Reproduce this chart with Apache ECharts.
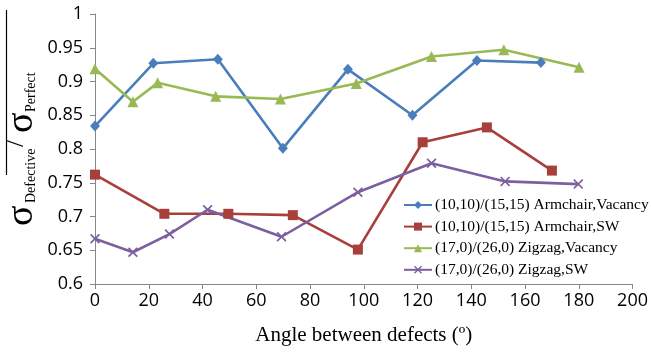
<!DOCTYPE html>
<html>
<head>
<meta charset="utf-8">
<script src="https://cdn.jsdelivr.net/npm/echarts@6/dist/echarts.min.js"></script>
<style>
  html, body { margin: 0; padding: 0; background: #fff; }
  #chart { width: 651px; height: 352px; }
</style>
</head>
<body>
<div id="chart"></div>
<script>
// Angle between defects (degrees) and stress ratio for each nanotube pair
const armVacAngle = [0, 21.7, 45.7, 69.9, 94.1, 118.1, 142.1, 165.9];
const armVacRatio = [0.834, 0.927, 0.933, 0.801, 0.918, 0.850, 0.931, 0.928];

const armSwAngle = [0, 25.8, 49.6, 73.6, 97.8, 121.9, 145.8, 170.0];
const armSwRatio = [0.762, 0.704, 0.704, 0.702, 0.651, 0.810, 0.832, 0.768];

const zigVacAngle = [0, 14.1, 23.3, 44.9, 69.0, 97.2, 125.2, 152.1, 180.1];
const zigVacRatio = [0.919, 0.870, 0.898, 0.878, 0.874, 0.897, 0.937, 0.947, 0.921];

const zigSwAngle = [0, 14.1, 27.7, 41.9, 69.4, 97.8, 125.2, 152.6, 179.8];
const zigSwRatio = [0.667, 0.647, 0.674, 0.710, 0.670, 0.736, 0.779, 0.752, 0.748];

const seriesNames = [
  '(10,10)/(15,15) Armchair,Vacancy',
  '(10,10)/(15,15) Armchair,SW',
  '(17,0)/(26,0) Zigzag,Vacancy',
  '(17,0)/(26,0) Zigzag,SW'
];

const xTicks = [0, 20, 40, 60, 80, 100, 120, 140, 160, 180, 200];
const yTicks = ['0.6', '0.65', '0.7', '0.75', '0.8', '0.85', '0.9', '0.95', '1'];

const pairs = (xs, ys) => xs.map((x, i) => [x, ys[i]]);

const SERIF = '"Liberation Serif", "Times New Roman", serif';
const SANS = '"Open Sans", sans-serif';
const AXIS_GREY = '#878787';

// filled "x" marker
const crossPath = 'path://M0,1.2L1.2,0L5,3.8L8.8,0L10,1.2L6.2,5L10,8.8L8.8,10L5,6.2L1.2,10L0,8.8L3.8,5Z';

const styles = [
  { color: '#4A7EBB', symbol: 'diamond', size: [10, 11] },
  { color: '#A83F3B', symbol: 'rect', size: 10 },
  { color: '#98B954', symbol: 'triangle', size: 11 },
  { color: '#7D5FA0', symbol: crossPath, size: 10 }
];
const dataSets = [
  pairs(armVacAngle, armVacRatio),
  pairs(armSwAngle, armSwRatio),
  pairs(zigVacAngle, zigVacRatio),
  pairs(zigSwAngle, zigSwRatio)
];

// one piece of the rotated axis title
const titlePiece = (text, x, y, size) => ({
  type: 'text',
  x, y,
  style: {
    text,
    font: size + 'px ' + SERIF,
    fill: '#000',
    align: 'left',
    verticalAlign: 'middle'
  }
});

const chart = echarts.init(document.getElementById('chart'), null, { renderer: 'canvas' });

chart.setOption({
  animation: false,
  backgroundColor: '#fff',
  grid: { left: 95, right: 16, top: 14, bottom: 68, containLabel: false },
  xAxis: {
    type: 'value',
    min: xTicks[0],
    max: xTicks[xTicks.length - 1],
    interval: xTicks[1] - xTicks[0],
    name: 'Angle between defects (º)',
    nameLocation: 'middle',
    nameGap: 41,
    nameTextStyle: { fontFamily: SERIF, fontSize: 21, color: '#000' },
    axisLine: { lineStyle: { color: AXIS_GREY, width: 1 } },
    axisTick: { show: true, inside: false, length: 5, lineStyle: { color: AXIS_GREY } },
    axisLabel: { fontFamily: SANS, fontSize: 18, color: '#000', margin: 8 },
    splitLine: { show: false }
  },
  yAxis: {
    type: 'value',
    min: Number(yTicks[0]),
    max: Number(yTicks[yTicks.length - 1]),
    interval: 0.05,
    axisLine: { show: true, lineStyle: { color: AXIS_GREY, width: 1 } },
    axisTick: { show: true, inside: false, length: 5, lineStyle: { color: AXIS_GREY } },
    axisLabel: {
      fontFamily: SANS, fontSize: 18, color: '#000', margin: 12,
      formatter: (v) => yTicks[Math.round((v - Number(yTicks[0])) / 0.05)]
    },
    splitLine: { show: false }
  },
  legend: {
    orient: 'vertical',
    left: 398,
    top: 192,
    itemWidth: 28,
    itemHeight: 10,
    itemGap: 5.6,
    textStyle: { fontFamily: SERIF, fontSize: 15.5, color: '#000', padding: [0, 0, 0, -2] },
    data: seriesNames
  },
  series: seriesNames.map((name, i) => ({
    name,
    type: 'line',
    data: dataSets[i],
    symbol: styles[i].symbol,
    symbolSize: styles[i].size,
    showSymbol: true,
    lineStyle: { color: styles[i].color, width: 2.6 },
    itemStyle: { color: styles[i].color, borderWidth: 0 },
    emphasis: { disabled: true }
  })),
  graphic: [
    // overline of the stress-ratio axis title
    {
      type: 'line',
      shape: { x1: 6.5, y1: 10, x2: 6.5, y2: 175 },
      style: { stroke: '#000', lineWidth: 1.2 }
    },
    // rotated axis title: σ_Defective / σ_Perfect
    {
      type: 'group',
      x: 0,
      y: 226,
      rotation: Math.PI / 2,
      children: [
        titlePiece('σ', 0, 21.6, 38),
        titlePiece('Defective', 23, 31, 14),
        titlePiece('/', 79, 16, 26),
        titlePiece('σ', 93, 21.6, 38),
        titlePiece('Perfect', 114, 31, 14)
      ]
    }
  ]
});
</script>
</body>
</html>
